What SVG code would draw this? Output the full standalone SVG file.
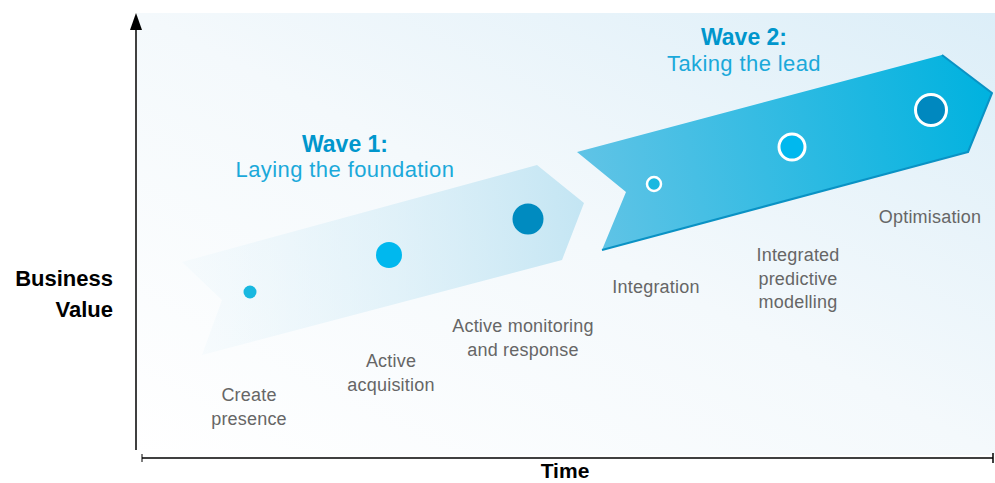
<svg xmlns="http://www.w3.org/2000/svg" width="995" height="483" viewBox="0 0 995 483">
<defs>
<linearGradient id="bg" x1="0" y1="1" x2="1" y2="0">
<stop offset="0" stop-color="#ffffff"/>
<stop offset="0.5" stop-color="#f4f9fc"/>
<stop offset="1" stop-color="#dcEEf8"/>
</linearGradient>
<linearGradient id="w1" x1="180" y1="260" x2="585" y2="200" gradientUnits="userSpaceOnUse">
<stop offset="0" stop-color="#e4f3fa" stop-opacity="0.2"/>
<stop offset="1" stop-color="#c3e5f3"/>
</linearGradient>
<linearGradient id="w2" x1="577" y1="190" x2="992" y2="100" gradientUnits="userSpaceOnUse">
<stop offset="0" stop-color="#62c4e6"/>
<stop offset="1" stop-color="#00b2df"/>
</linearGradient>
<style>
.lbl{font-family:"Liberation Sans",Arial,sans-serif;font-size:18px;letter-spacing:0.2px;fill:#666;text-anchor:middle}
.wb{font-family:"Liberation Sans",Arial,sans-serif;font-size:23px;font-weight:bold;fill:#0096cc;text-anchor:middle}
.wt{font-family:"Liberation Sans",Arial,sans-serif;font-size:22px;letter-spacing:0.4px;fill:#1ba9da;text-anchor:middle}
.ax{font-family:"Liberation Sans",Arial,sans-serif;font-size:22px;font-weight:bold;fill:#000}
.ring{stroke:#fff}
</style>
</defs>
<rect x="137" y="13" width="858" height="442" fill="url(#bg)"/>
<g id="axes">
<line x1="136" y1="450" x2="136" y2="26" stroke="#000" stroke-width="1.5"/>
<polygon points="136,13 142,30 130,30" fill="#000"/>
<line x1="142" y1="458" x2="993" y2="458" stroke="#000" stroke-width="1.5"/>
<line x1="142" y1="454" x2="142" y2="462" stroke="#000" stroke-width="1"/>
<line x1="993" y1="453" x2="993" y2="463" stroke="#000" stroke-width="1.5"/>
<text class="ax" x="113" y="286" text-anchor="end">Business</text>
<text class="ax" x="113" y="317" text-anchor="end">Value</text>
<text class="ax" x="565" y="478" text-anchor="middle" style="font-size:21px">Time</text>
</g>
<g id="wave1">
<polygon points="182,262 537,165 584,203 562,260 202,355 222,300" fill="url(#w1)"/>
<text class="wb" x="345" y="152">Wave 1:</text>
<text class="wt" x="345" y="177">Laying the foundation</text>
</g>
<g id="wave2">
<polygon points="577,152 942,55 992,93 968,152 602,250 626,192" fill="url(#w2)"/>
<polyline points="942,55 992,93 968,152 602,250" fill="none" stroke="#0a92c4" stroke-width="2" stroke-linejoin="round"/>
<text class="wb" x="744" y="45">Wave 2:</text>
<text class="wt" x="744" y="71">Taking the lead</text>
</g>
<g id="n1"><circle cx="250" cy="292" r="6.5" fill="#19b8e0"/><text class="lbl" x="249" y="401">Create</text><text class="lbl" x="249" y="425">presence</text></g>
<g id="n2"><circle cx="389" cy="255" r="13" fill="#00b8ee"/><text class="lbl" x="391" y="367">Active</text><text class="lbl" x="391" y="391">acquisition</text></g>
<g id="n3"><circle cx="528" cy="219" r="15.5" fill="#008bc0"/><text class="lbl" x="523" y="332">Active monitoring</text><text class="lbl" x="523" y="356">and response</text></g>
<g id="n4"><circle cx="654" cy="184" r="7" fill="#19b8e0" class="ring" stroke-width="2.5"/><text class="lbl" x="656" y="293">Integration</text></g>
<g id="n5"><circle cx="792" cy="147" r="13" fill="#00b8ee" class="ring" stroke-width="3"/><text class="lbl" x="798" y="261">Integrated</text><text class="lbl" x="798" y="285">predictive</text><text class="lbl" x="798" y="308">modelling</text></g>
<g id="n6"><circle cx="931" cy="110" r="15.5" fill="#0088bf" class="ring" stroke-width="3"/><text class="lbl" x="930" y="223">Optimisation</text></g>
</svg>
